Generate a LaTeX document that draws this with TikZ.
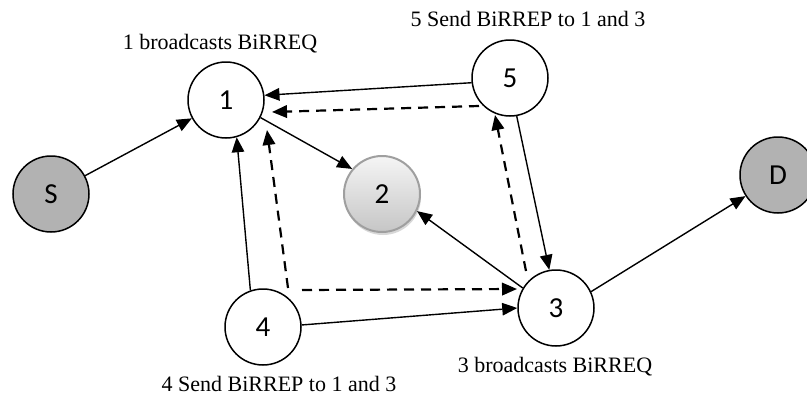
\documentclass[tikz,border=0pt]{standalone}
\usepackage{fontspec}
\setmainfont{Liberation Serif}
\newfontfamily\numfont{Carlito}
\usetikzlibrary{arrows.meta,shadows}

\begin{document}
\begin{tikzpicture}[x=1pt, y=-1pt, >={Triangle[length=15pt,width=12.5pt]}]
	\tikzstyle{netNode} = [circle, draw, line width=1.5pt, minimum size=76pt, inner sep=0pt, font=\numfont\fontsize{29}{29}\selectfont]
	\tikzstyle{endNode} = [netNode, fill=gray!60]
	\tikzstyle{hiddenNode} = [netNode, draw=gray!75, line width=2pt, top color=gray!8, bottom color=gray!45, drop shadow={shadow xshift=1pt, shadow yshift=-3pt, fill=gray!60, opacity=.5}]
	\tikzstyle{caption} = [font=\fontsize{22}{24}\selectfont, anchor=base, inner sep=0pt]
	\tikzstyle{request} = [->, line width=1.4pt]
	\tikzstyle{reply} = [->, line width=2.2pt, dash pattern=on 10pt off 7pt]
	\useasboundingbox (0,0) rectangle (807,397);

	% nodes
	\node[endNode] (S) at (51,194) {S};
	\node[netNode] (1) at (226,100) {1};
	\node[hiddenNode] (2) at (382,194) {2};
	\node[netNode] (5) at (510,78) {5};
	\node[netNode] (3) at (556,308) {3};
	\node[netNode] (4) at (263,327) {4};
	\node[endNode] (D) at (778,175) {D};

	% captions
	\node[caption] (cap1) at (220,49) {1 broadcasts BiRREQ};
	\node[caption] (cap5) at (528,26) {5 Send BiRREP to 1 and 3};
	\node[caption] (cap3) at (555,372) {3 broadcasts BiRREQ};
	\node[caption] (cap4) at (279,391) {4 Send BiRREP to 1 and 3};

	% BiRREQ
	\draw[request] (S) -- (1);
	\draw[request] (1.-27) -- (2.140);
	\draw[request] (5.187) -- (1.7);
	\draw[request] (4.109) -- (1.-74);
	\draw[request] (4.3) -- (3.180);
	\draw[request] (3.149) -- (2.-26);
	\draw[request] (5.-80) -- (3.100);
	\draw[request] (3.25) -- (D.213);

	% BiRREP
	\coordinate (r51s) at (479,106);
	\coordinate (r51e) at (272,112);
	\coordinate (r41s) at (288,288);
	\coordinate (r41e) at (267,130);
	\coordinate (r43s) at (302,290);
	\coordinate (r43e) at (517,289);
	\coordinate (r35s) at (526,271);
	\coordinate (r35e) at (495,115);
	\draw[reply] (r51s) -- (r51e);
	\draw[reply] (r41s) -- (r41e);
	\draw[reply] (r43s) -- (r43e);
	\draw[reply] (r35s) -- (r35e);
\end{tikzpicture}
\end{document}
